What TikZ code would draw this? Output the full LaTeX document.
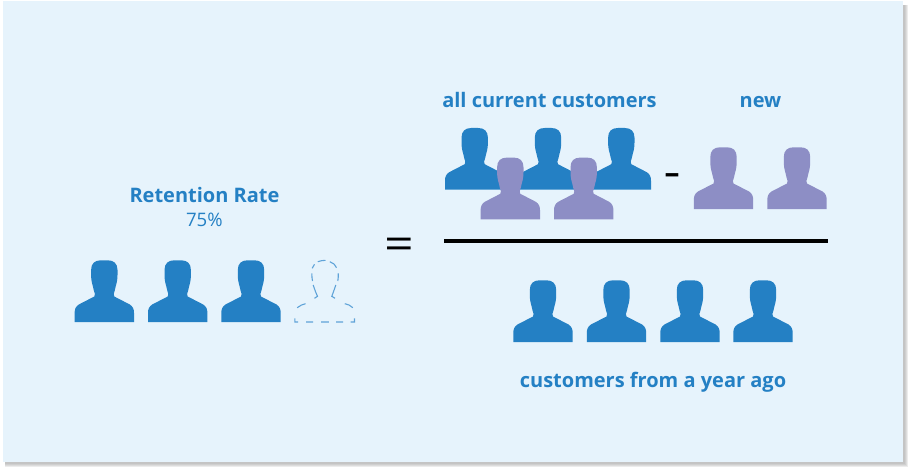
\documentclass[tikz,border=0pt]{standalone}
\usepackage{fontspec}
\setmainfont{Open Sans}
\definecolor{panelbg}{HTML}{E6F3FC}
\definecolor{custblue}{HTML}{2480C4}
\definecolor{custpurple}{HTML}{8D8EC5}
\definecolor{ghostblue}{HTML}{5FA3D8}
\tikzset{
  x=1pt,y=-1pt,
  headlabel/.style={font=\bfseries\fontsize{20}{24}\selectfont,text=custblue,inner sep=0pt,anchor=base},
  sublabel/.style={font=\fontsize{18.6}{22}\selectfont,text=custblue,inner sep=0pt,anchor=base},
  opsign/.style={inner sep=0pt,text=black,anchor=center},
  silhouette/.pic={
    \path[pic actions]
      (-29.7,0) -- (-29.7,-9)
      .. controls (-29.7,-13) and (-28.5,-15.5) .. (-25.5,-17.5)
      -- (-10,-25.5) .. controls (-9.3,-26) and (-9.2,-27) .. (-9.4,-28)
      .. controls (-10,-30) and (-11,-33) .. (-11.5,-36)
      .. controls (-12.8,-40) and (-13.2,-44) .. (-13.2,-47)
      -- (-13.2,-52) .. controls (-13.2,-58.5) and (-9.5,-61.7) .. (-3.5,-61.7)
      -- (3.5,-61.7) .. controls (9.5,-61.7) and (13.2,-58.5) .. (13.2,-52)
      -- (13.2,-47) .. controls (13.2,-44) and (12.8,-40) .. (11.5,-36)
      .. controls (11,-33) and (10,-30) .. (9.4,-28)
      .. controls (9.2,-27) and (9.3,-26) .. (10,-25.5)
      -- (25.5,-17.5) .. controls (28.5,-15.5) and (29.7,-13) .. (29.7,-9)
      -- (29.7,0) -- cycle;
  },
  ghostfigure/.pic={
    \draw[pic actions]
      (-29.7,-3.7) -- (-29.7,0) -- (-26.5,0)
      (-18.3,0) -- (-11.3,0) (-3.3,0) -- (4.3,0) (11.7,0) -- (18.7,0)
      (26,0) -- (30,0) -- (30,-3.7)
      (-27.3,-14.3) -- (-23,-17) -- (-19,-18.3)
      (20.3,-18.3) -- (24.5,-17) -- (28.3,-14.3)
      (-11.3,-37) -- (-9,-30.3) -- (-7,-25.7) -- (-10,-23.7)
      (11.3,-37) -- (9,-30.3) -- (7.3,-25.7) -- (10.5,-23.7)
      (-12.3,-53.7) -- (-10,-57.7)
      (-6.7,-60.3) -- (-3,-61.3) -- (1,-61.7)
      (5.3,-60.3) -- (9.5,-58) -- (12,-54.3)
      (-12.7,-48.7) -- (-12.5,-44.5) -- (-12,-41)
      (13.7,-48.7) -- (13.7,-44.5) -- (13.3,-41);
  },
  person/.style={fill=custblue,draw=none},
  newperson/.style={fill=custpurple,draw=none},
  ghost/.style={draw=ghostblue,fill=none,line width=1.1pt},
}
\begin{document}
\begin{tikzpicture}
\useasboundingbox (0,0) rectangle (908,468);
\fill[white] (0,0) rectangle (908,468);
% soft shadow
\foreach \g in {4.5,3.5,2.5,1.5}{
  \fill[black!45,opacity=0.16] (5,5) rectangle (903+\g,462+\g);
}
\fill[panelbg] (2.5,1.5) rectangle (903,462);
% texts
\node[headlabel] (rr) at (204.5,202.5) {Retention Rate};
\node[sublabel] (pct) at (204.3,226.5) {75\%};
\node[headlabel] (cur) at (549.5,108) {all current customers};
\node[headlabel] (new) at (760.5,108) {new};
\node[headlabel] (ago) at (653,387.3) {customers from a year ago};
\node[opsign,font=\fontsize{44}{44}\selectfont,xscale=1.18] (eq) at (399.5,248.5) {=};
\node[opsign,font=\bfseries\fontsize{30}{30}\selectfont,xscale=1.6,yscale=0.9] (minus) at (672,178) {-};
% left row
\pic[person] at (104.3,322) {silhouette};
\pic[person] at (177.7,322) {silhouette};
\pic[person] at (251,322) {silhouette};
\pic[ghost] at (324.5,322) {ghostfigure};
% numerator
\pic[person] at (474.7,189.7) {silhouette};
\pic[person] at (548,189.7) {silhouette};
\pic[person] at (621.3,189.7) {silhouette};
\pic[newperson] at (510.3,219.3) {silhouette};
\pic[newperson] at (583.7,219.3) {silhouette};
\pic[newperson] at (723.5,209) {silhouette};
\pic[newperson] at (797,209) {silhouette};
% fraction bar
\coordinate (barL) at (444,241.3);
\coordinate (barR) at (828,241.3);
\draw[black,line width=4pt] (barL) -- (barR);
% denominator
\pic[person] at (543,342) {silhouette};
\pic[person] at (616.5,342) {silhouette};
\pic[person] at (690,342) {silhouette};
\pic[person] at (763,342) {silhouette};
\end{tikzpicture}
\end{document}
